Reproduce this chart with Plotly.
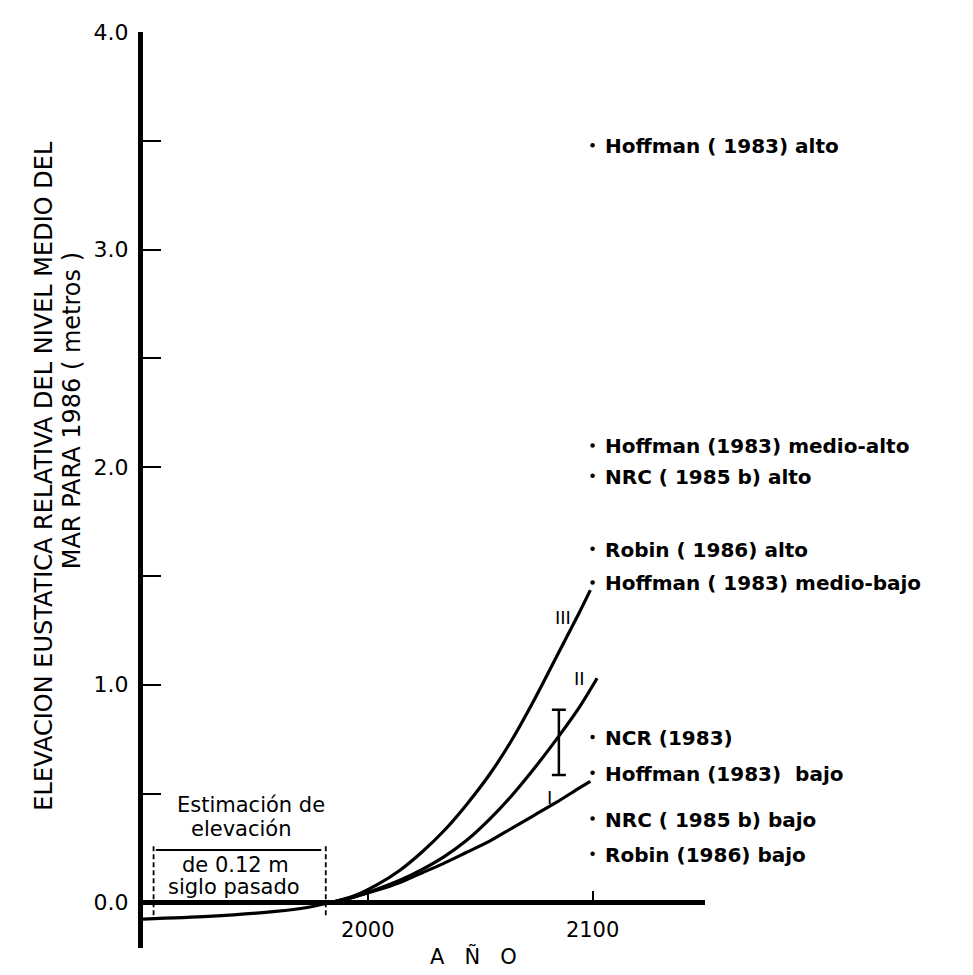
import plotly.graph_objects as go

# ---------------- data ----------------
hist_years = [1900, 1929, 1959, 1973, 1984]
hist_level = [-0.077, -0.065, -0.042, -0.024, 0.0]

c3_years = [1984, 1994, 2004, 2014, 2024, 2034, 2044, 2054, 2064, 2074, 2084, 2094, 2099]
c3_level = [0.0, 0.03, 0.08, 0.145, 0.23, 0.33, 0.45, 0.585, 0.745, 0.93, 1.13, 1.33, 1.435]

c2_years = [1984, 1994, 2004, 2014, 2024, 2034, 2044, 2054, 2064, 2074, 2084, 2094, 2102]
c2_level = [0.0, 0.025, 0.06, 0.10, 0.15, 0.21, 0.285, 0.38, 0.49, 0.615, 0.75, 0.895, 1.03]

c1_years = [1984, 1994, 2004, 2014, 2024, 2034, 2044, 2054, 2064, 2074, 2084, 2094, 2099]
c1_level = [0.0, 0.025, 0.055, 0.09, 0.135, 0.18, 0.23, 0.28, 0.34, 0.40, 0.46, 0.525, 0.556]

curve_label_text = ["III", "II", "I"]
curve_label_x = [2087, 2094, 2081]
curve_label_y = [1.31, 1.03, 0.48]

ncr_year = [2085]
ncr_mid = [0.735]
ncr_half = [0.15]

est_year = 2100
est_labels = [
    "Hoffman ( 1983) alto",
    "Hoffman (1983) medio-alto",
    "NRC ( 1985 b) alto",
    "Robin ( 1986) alto",
    "Hoffman ( 1983) medio-bajo",
    "NCR (1983)",
    "Hoffman (1983)\u00a0 bajo",
    "NRC ( 1985 b) bajo",
    "Robin (1986) bajo",
]
est_values = [3.48, 2.10, 1.96, 1.625, 1.47, 0.76, 0.595, 0.385, 0.223]

bracket_x = [1904.7, 1981.3]
bracket_bar_y = 0.24
bracket_top = 0.26
bracket_bottom = -0.06
bracket_text = ["Estimación de", "elevación", "de 0.12 m", "siglo pasado"]
bracket_text_x = [1948, 1944, 1941, 1940.5]
bracket_text_y = [0.448, 0.336, 0.173, 0.07]

y_tickvals = [0, 0.5, 1.0, 1.5, 2.0, 2.5, 3.0, 3.5, 4.0]
y_ticktext = ["0.0", "", "1.0", "", "2.0", "", "3.0", "", "4.0"]
x_tickvals = [2000, 2100]
x_ticktext = ["2000", "2100"]

y_title_1 = "ELEVACION EUSTATICA RELATIVA DEL NIVEL MEDIO DEL"
y_title_2 = "MAR PARA 1986 ( metros )"
x_title = "A\u00a0\u00a0\u00a0Ñ\u00a0\u00a0\u00a0O"

YMIN, YMAX = -0.21, 4.0
XMIN, XMAX = 1900, 2150

FONT = "DejaVu Sans"
# --------------------------------------

fig = go.Figure()
line_style = dict(color="black", width=3.2, shape="spline", smoothing=0.8)

fig.add_trace(go.Scatter(x=hist_years, y=hist_level, mode="lines", line=line_style, hoverinfo="skip"))
fig.add_trace(go.Scatter(x=c3_years, y=c3_level, mode="lines", line=line_style, hoverinfo="skip"))
fig.add_trace(go.Scatter(x=c2_years, y=c2_level, mode="lines", line=line_style, hoverinfo="skip"))
fig.add_trace(go.Scatter(x=c1_years, y=c1_level, mode="lines", line=line_style, hoverinfo="skip"))

# NCR error bar
fig.add_trace(go.Scatter(
    x=ncr_year, y=ncr_mid, mode="markers",
    marker=dict(size=1, color="rgba(0,0,0,0)"),
    error_y=dict(type="data", array=ncr_half, visible=True, color="black", thickness=2.5, width=7),
    hoverinfo="skip"))

# estimate dots
fig.add_trace(go.Scatter(
    x=[est_year] * len(est_values), y=est_values, mode="markers",
    marker=dict(size=4.5, color="black"), hoverinfo="skip", cliponaxis=False))

for txt, v in zip(est_labels, est_values):
    fig.add_annotation(x=est_year, y=v, text=txt, xanchor="left", yanchor="middle",
                       xshift=10, yshift=-1, showarrow=False,
                       font=dict(family=FONT, size=20, color="black", weight="bold"))

for txt, xx, yy in zip(curve_label_text, curve_label_x, curve_label_y):
    fig.add_annotation(x=xx, y=yy, text=txt, showarrow=False,
                       font=dict(family=FONT, size=18, color="black"))

for txt, xx, yy in zip(bracket_text, bracket_text_x, bracket_text_y):
    fig.add_annotation(x=xx, y=yy, text=txt, showarrow=False,
                       font=dict(family=FONT, size=21, color="black"))

# bracket shapes
for bx in bracket_x:
    fig.add_shape(type="line", x0=bx, x1=bx, y0=bracket_bottom, y1=bracket_top,
                  line=dict(color="black", width=1.8, dash="5px,3px"))
fig.add_shape(type="line", x0=bracket_x[0] + 1, x1=bracket_x[1] - 2, y0=bracket_bar_y, y1=bracket_bar_y,
              line=dict(color="black", width=2))

# axis titles
fig.add_annotation(xref="paper", yref="paper", x=(20 - 135) / 562, y=(940 - 463) / 925,
                   text=y_title_1, textangle=-90, showarrow=False,
                   font=dict(family=FONT, size=24, color="black"))
fig.add_annotation(xref="paper", yref="paper", x=(48 - 135) / 562, y=(940 - 398) / 925,
                   text=y_title_2, textangle=-90, showarrow=False,
                   font=dict(family=FONT, size=24, color="black"))
fig.add_annotation(xref="paper", yref="paper", x=(465 - 135) / 562, y=(940 - 963) / 925,
                   text=x_title, showarrow=False,
                   font=dict(family=FONT, size=21, color="black"))

fig.update_layout(
    width=973, height=975,
    margin=dict(l=135, r=276, t=15, b=35),
    paper_bgcolor="white", plot_bgcolor="white",
    showlegend=False,
    font=dict(family=FONT, size=20, color="black"),
    xaxis=dict(
        range=[XMIN, XMAX], showgrid=False, zeroline=False,
        showline=True, linecolor="black", linewidth=5,
        anchor="free", position=(0 - YMIN) / (YMAX - YMIN),
        tickvals=x_tickvals, ticktext=x_ticktext,
        ticks="inside", ticklen=9, tickwidth=2, tickcolor="black",
        tickfont=dict(family=FONT, size=21), ticklabelstandoff=6,
    ),
    yaxis=dict(
        range=[YMIN, YMAX], showgrid=False, zeroline=False,
        showline=True, linecolor="black", linewidth=5,
        tickvals=y_tickvals, ticktext=y_ticktext,
        ticks="inside", ticklen=18, tickwidth=2, tickcolor="black",
        tickfont=dict(family=FONT, size=22), ticklabelstandoff=5,
    ),
)

fig.write_html("out.html")
